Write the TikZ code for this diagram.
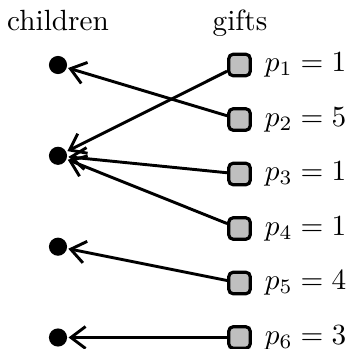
\documentclass[tikz,border=0pt]{standalone}
\usetikzlibrary{arrows.meta}
\begin{document}
\begin{tikzpicture}[x=0.342pt,y=-0.342pt,
  child/.style={circle,fill=black,inner sep=0pt,minimum size=6.2pt},
  gift/.style={rectangle,rounded corners=1.6pt,draw=black,line width=1.1pt,fill=black!25,inner sep=0pt,minimum size=7.4pt},
  giftlabel/.style={anchor=west,inner sep=0pt},
  assign/.style={line width=1pt,-{Straight Barb[length=5pt,width=7.5pt,line width=1pt]},shorten >=0.3pt}]
\useasboundingbox (0,0) rectangle (348,349);

% column headers
\node[anchor=base] (hc) at (58,30) {children};
\node[anchor=base] (hg) at (240,30) {gifts};

% children
\node[child] (c1) at (58,65) {};
\node[child] (c2) at (58,155.8) {};
\node[child] (c3) at (58,246.7) {};
\node[child] (c4) at (58,337.5) {};

% gifts with their values
\foreach \i/\v in {1/1,2/5,3/1,4/1,5/4,6/3}{
  \node[gift] (g\i) at (239.5,{65+54.5*(\i-1)}) {};
  \node[giftlabel] (l\i) at ([xshift=4.2pt]g\i.east) {$p_{\i} = \v$};
}

% assignment of gifts to children
\draw[assign] (g1) -- (c2);
\draw[assign] (g2) -- (c1);
\draw[assign] (g3) -- (c2);
\draw[assign] (g4) -- (c2);
\draw[assign] (g5) -- (c3);
\draw[assign] (g6) -- (c4);
\end{tikzpicture}
\end{document}
